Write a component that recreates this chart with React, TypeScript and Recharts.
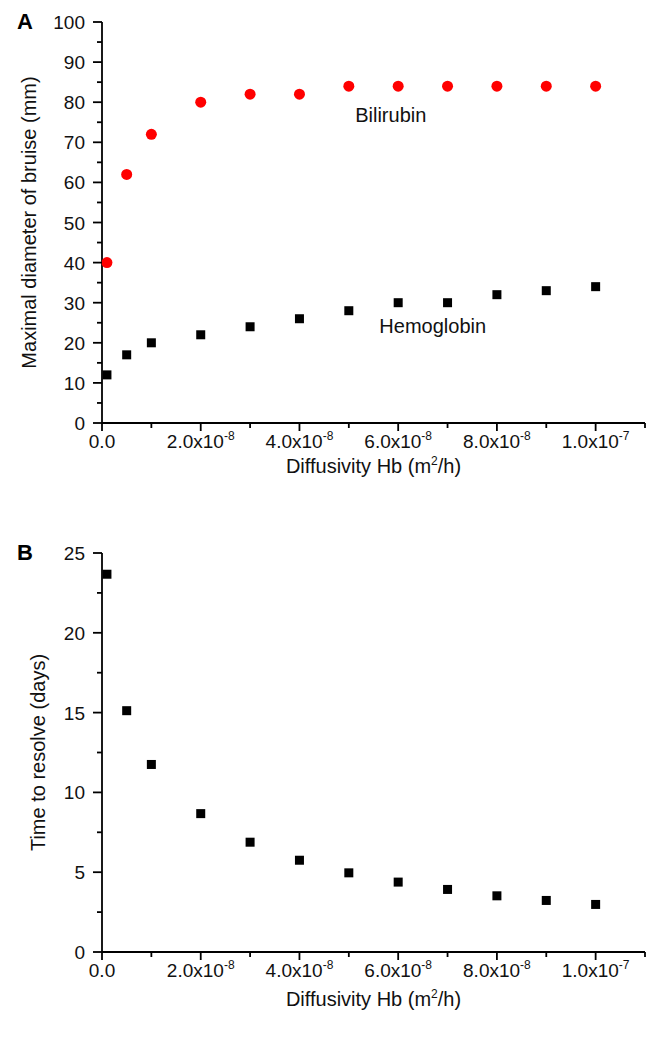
import React from 'react';
import { ScatterChart, Scatter, XAxis, YAxis, ReferenceDot } from 'recharts';

// ---------- data ----------
const diffusivity = [1e-9, 5e-9, 1e-8, 2e-8, 3e-8, 4e-8, 5e-8, 6e-8, 7e-8, 8e-8, 9e-8, 1e-7];
const bilirubin = [40, 62, 72, 80, 82, 82, 84, 84, 84, 84, 84, 84];
const hemoglobin = [12, 17, 20, 22, 24, 26, 28, 30, 30, 32, 33, 34];
const timeToResolve = [23.67, 15.12, 11.75, 8.67, 6.88, 5.75, 4.96, 4.38, 3.92, 3.52, 3.23, 2.98];

const xTicks = [0, 1e-8, 2e-8, 3e-8, 4e-8, 5e-8, 6e-8, 7e-8, 8e-8, 9e-8, 1e-7, 1.1e-7];
const xLabelMantissa = ['0.0', '2.0', '4.0', '6.0', '8.0', '1.0'];
const xLabelExponent = ['', '-8', '-8', '-8', '-8', '-7'];
const yTicksA = [0, 5, 10, 15, 20, 25, 30, 35, 40, 45, 50, 55, 60, 65, 70, 75, 80, 85, 90, 95, 100];
const yTicksB = [0, 2.5, 5, 7.5, 10, 12.5, 15, 17.5, 20, 22.5, 25];

const bilirubinData = diffusivity.map((x, i) => ({ x, y: bilirubin[i] }));
const hemoglobinData = diffusivity.map((x, i) => ({ x, y: hemoglobin[i] }));
const timeData = diffusivity.map((x, i) => ({ x, y: timeToResolve[i] }));

const FONT = '"Liberation Sans", Arial, Helvetica, sans-serif';
const TICK_FS = 19;
const TITLE_FS = 20;
const AXIS_W = 1.8;

const XTick = (props: any) => {
  const { x, y, payload } = props;
  const k = Math.round(payload.value / 1e-8);
  const major = k % 2 === 0 && k <= 10;
  const li = k / 2;
  return (
    <g>
      <line x1={x} y1={y} x2={x} y2={y + (major ? 8 : 5)} stroke="#000" strokeWidth={AXIS_W} />
      {major && (
        <text x={x} y={y + 25} textAnchor="middle" fontSize={TICK_FS} fill="#111" fontFamily={FONT}>
          {xLabelExponent[li] ? `${xLabelMantissa[li]}x10` : xLabelMantissa[li]}
          {xLabelExponent[li] ? (
            <tspan dy={-8} fontSize={12}>{xLabelExponent[li]}</tspan>
          ) : null}
        </text>
      )}
    </g>
  );
};

const makeYTick = (majorStep: number) => (props: any) => {
  const { x, y, payload } = props;
  const v = payload.value;
  const major = Math.abs(v / majorStep - Math.round(v / majorStep)) < 1e-6;
  return (
    <g>
      <line x1={x} y1={y} x2={x - (major ? 9 : 5)} y2={y} stroke="#000" strokeWidth={AXIS_W} />
      {major && (
        <text x={x - 17} y={y + 7} textAnchor="end" fontSize={TICK_FS} fill="#111" fontFamily={FONT}>
          {String(v)}
        </text>
      )}
    </g>
  );
};

const xTitle = (dy: number) => (props: any) => {
  const vb = props.viewBox || {};
  const cx = vb.x + vb.width / 2;
  return (
    <text x={cx} y={vb.y + dy} textAnchor="middle" fontSize={TITLE_FS} fill="#111" fontFamily={FONT}>
      Diffusivity Hb (m<tspan dy={-8} fontSize={12}>2</tspan><tspan dy={8}>/h)</tspan>
    </text>
  );
};

const yTitle = (text: string, dx: number) => (props: any) => {
  const vb = props.viewBox || {};
  const cx = vb.x + dx;
  const cy = vb.y + vb.height / 2;
  return (
    <text
      x={cx}
      y={cy}
      textAnchor="middle"
      dominantBaseline="central"
      transform={`rotate(-90, ${cx}, ${cy})`}
      fontSize={TITLE_FS}
      fill="#111"
      fontFamily={FONT}
    >
      {text}
    </text>
  );
};

const Circle = (props: any) => <circle cx={props.cx} cy={props.cy} r={5.5} fill="#ff0000" />;
const Square = (props: any) => (
  <rect x={props.cx - 4.5} y={props.cy - 4.5} width={9} height={9} fill="#000" />
);

const letterStyle: React.CSSProperties = {
  position: 'absolute',
  fontFamily: FONT,
  fontWeight: 'bold',
  fontSize: 22,
  color: '#000',
  lineHeight: '22px',
};

export default function App() {
  return (
    <div style={{ position: 'absolute', left: 0, top: 0, width: 651, height: 1037, background: '#fff', fontFamily: FONT }}>
      <div style={{ ...letterStyle, left: 17, top: 11 }}>A</div>
      <div style={{ ...letterStyle, left: 17, top: 542 }}>B</div>

      <div style={{ position: 'absolute', left: 0, top: 0 }}>
        <ScatterChart width={651} height={500} margin={{ top: 22, right: 6, bottom: 0, left: 0 }}>
          <XAxis
            type="number"
            dataKey="x"
            domain={[0, 1.1e-7]}
            ticks={xTicks}
            interval={0}
            height={77}
            tickSize={0}
            tickMargin={0}
            tick={<XTick />}
            axisLine={{ stroke: '#000', strokeWidth: AXIS_W }}
            label={{ content: xTitle(50) }}
          />
          <YAxis
            type="number"
            dataKey="y"
            domain={[0, 100]}
            ticks={yTicksA}
            interval={0}
            width={102}
            tickSize={0}
            tickMargin={0}
            tick={makeYTick(10)}
            axisLine={{ stroke: '#000', strokeWidth: AXIS_W }}
            label={{ content: yTitle('Maximal diameter of bruise (mm)', 29) }}
          />
          <Scatter data={bilirubinData} shape={Circle} isAnimationActive={false} />
          <Scatter data={hemoglobinData} shape={Square} isAnimationActive={false} />
          <ReferenceDot
            x={5.85e-8}
            y={76.8}
            r={0}
            fill="none"
            stroke="none"
            label={{ value: 'Bilirubin', position: 'center', fontSize: TITLE_FS, fill: '#111', fontFamily: FONT }}
          />
          <ReferenceDot
            x={6.7e-8}
            y={24.2}
            r={0}
            fill="none"
            stroke="none"
            label={{ value: 'Hemoglobin', position: 'center', fontSize: TITLE_FS, fill: '#111', fontFamily: FONT }}
          />
        </ScatterChart>
      </div>

      <div style={{ position: 'absolute', left: 0, top: 530 }}>
        <ScatterChart width={651} height={507} margin={{ top: 23, right: 6, bottom: 0, left: 0 }}>
          <XAxis
            type="number"
            dataKey="x"
            domain={[0, 1.1e-7]}
            ticks={xTicks}
            interval={0}
            height={85}
            tickSize={0}
            tickMargin={0}
            tick={<XTick />}
            axisLine={{ stroke: '#000', strokeWidth: AXIS_W }}
            label={{ content: xTitle(54) }}
          />
          <YAxis
            type="number"
            dataKey="y"
            domain={[0, 25]}
            ticks={yTicksB}
            interval={0}
            width={102}
            tickSize={0}
            tickMargin={0}
            tick={makeYTick(5)}
            axisLine={{ stroke: '#000', strokeWidth: AXIS_W }}
            label={{ content: yTitle('Time to resolve (days)', 38) }}
          />
          <Scatter data={timeData} shape={Square} isAnimationActive={false} />
        </ScatterChart>
      </div>
    </div>
  );
}
